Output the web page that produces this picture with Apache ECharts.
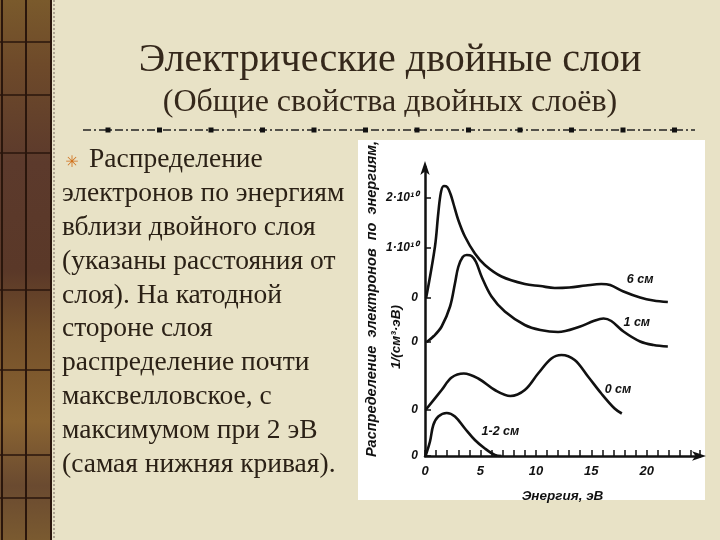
<!DOCTYPE html>
<html><head><meta charset="utf-8">
<script src="https://cdn.jsdelivr.net/npm/echarts@6/dist/echarts.min.js"></script>
<style>html,body{margin:0;padding:0;background:#E8E2C6}#c{width:720px;height:540px}</style>
</head><body><div id="c"></div>
<script>
// ---- data (energy in eV, distribution in units of 10^10 1/(cm^3·eV)) ----
const curveNames = ['6 см', '1 см', '0 см', '1-2 см'];
const baselineOffsets = [3.16, 2.28, 0.92, 0]; // vertical shift of each curve (stacked plot)
const energy6 = [0.1, 0.9, 1.2, 1.45, 1.7, 2.0, 2.3, 2.56, 3.0, 3.6, 4.5, 5.4, 6.9, 9.0, 10.4, 11.7, 13.0, 14.5, 15.9, 16.7, 17.9, 19.4, 20.6, 21.9];
const dist6   = [0, 1.03, 1.7, 2.13, 2.24, 2.22, 2.08, 1.89, 1.56, 1.23, 0.89, 0.66, 0.43, 0.28, 0.24, 0.2, 0.21, 0.25, 0.28, 0.26, 0.13, 0.01, -0.05, -0.08];
const energy1 = [0.15, 0.8, 1.5, 2.26, 2.7, 3.0, 3.4, 3.76, 4.2, 4.6, 5.1, 6.0, 7.2, 9.0, 10.4, 12.0, 14.0, 15.2, 16.1, 16.8, 17.9, 19.4, 20.6, 21.9];
const dist1   = [0, 0.12, 0.31, 0.71, 1.17, 1.5, 1.7, 1.74, 1.72, 1.6, 1.31, 0.91, 0.61, 0.34, 0.24, 0.2, 0.31, 0.42, 0.47, 0.42, 0.21, 0.01, -0.06, -0.09];
const energy0 = [0.05, 1.5, 2.4, 3.5, 4.8, 6.3, 7.7, 9.0, 10.2, 11.4, 12.3, 13.5, 14.7, 15.9, 17.1, 17.75];
const dist0   = [0, 0.4, 0.65, 0.73, 0.63, 0.4, 0.28, 0.4, 0.73, 1.03, 1.1, 1.0, 0.67, 0.33, 0.03, -0.07];
const energy12 = [0.05, 0.45, 0.75, 1.2, 1.96, 2.7, 3.6, 4.5, 5.4, 6.3, 6.9];
const dist12   = [0, 0.29, 0.62, 0.79, 0.86, 0.79, 0.55, 0.32, 0.15, 0.02, 0];
const xTickLabels = [0, 5, 10, 15, 20];
const yTickValues = [0, 0.92, 2.28, 3.16, 4.16, 5.16];
const yTickLabels = ['0', '0', '0', '0', '1·10¹⁰', '2·10¹⁰'];
const labelPos = [[19.4, 3.52], [19.1, 2.66], [17.4, 1.32], [6.8, 0.48]]; // where curve names sit
const bodyLines = ['электронов по энергиям', 'вблизи двойного слоя', '(указаны расстояния от', 'слоя). На катодной', 'стороне слоя', 'распределение почти', 'максвелловское, с', 'максимумом при 2 эВ', '(самая нижняя кривая).'];

const energies = [energy6, energy1, energy0, energy12];
const dists = [dist6, dist1, dist0, dist12];

const chart = echarts.init(document.getElementById('c'), null, {renderer: 'canvas'});
const axisFont = {fontFamily: 'Liberation Sans', fontStyle: 'italic', fontWeight: 'bold', color: '#111'};

const series = energies.map((ex, k) => ({
  type: 'line', name: curveNames[k], smooth: 0.35, showSymbol: false, symbol: 'none',
  lineStyle: {color: '#111', width: 2.6}, z: 5,
  data: ex.map((e, i) => [e, dists[k][i] + baselineOffsets[k]])
}));

const serif = '"Liberation Serif", "DejaVu Serif", serif';
const graphic = [];
// left decorative strip
graphic.push({type: 'rect', z: -20, silent: true, shape: {x: 0, y: 0, width: 52, height: 540},
  style: {fill: new echarts.graphic.LinearGradient(0, 0, 0, 1, [
    {offset: 0, color: '#7A5A2C'}, {offset: 0.12, color: '#6E4A2A'}, {offset: 0.3, color: '#5C3A2C'},
    {offset: 0.5, color: '#5A3828'}, {offset: 0.62, color: '#74502A'}, {offset: 0.78, color: '#8A6432'},
    {offset: 0.9, color: '#6A4A30'}, {offset: 1, color: '#7A5A30'}])}});
[2, 26, 51].forEach(x => graphic.push({type: 'line', z: -19, silent: true, shape: {x1: x, y1: 0, x2: x, y2: 540}, style: {stroke: '#2A160C', lineWidth: 2}}));
[42, 95, 153, 290, 370, 455, 498].forEach(y => graphic.push({type: 'line', z: -19, silent: true, shape: {x1: 0, y1: y, x2: 52, y2: y}, style: {stroke: '#2A160C', lineWidth: 1.5}}));
graphic.push({type: 'line', z: -19, silent: true, shape: {x1: 54, y1: 0, x2: 54, y2: 540}, style: {stroke: '#9A9080', lineWidth: 1.5, lineDash: [2, 2]}});
// white chart panel
graphic.push({type: 'rect', z: -10, silent: true, shape: {x: 358, y: 140, width: 347, height: 360}, style: {fill: '#FFFFFF'}});
// title
graphic.push({type: 'text', silent: true, style: {text: 'Электрические двойные слои', x: 390, y: 60, textAlign: 'center', textVerticalAlign: 'middle', font: '40px ' + serif, fill: '#35281B'}});
graphic.push({type: 'text', silent: true, style: {text: '(Общие свойства двойных слоёв)', x: 390, y: 103, textAlign: 'center', textVerticalAlign: 'middle', font: '32px ' + serif, fill: '#35281B'}});
// separator line with squares
graphic.push({type: 'line', silent: true, shape: {x1: 83, y1: 130, x2: 695, y2: 130}, style: {stroke: '#222', lineWidth: 1.5, lineDash: [8, 3, 2, 3]}});
for (let i = 0; i < 12; i++) {
  graphic.push({type: 'rect', silent: true, shape: {x: 105.5 + i * 51.5, y: 127.5, width: 5, height: 5}, style: {fill: '#111'}});
}
// bullet + body text
graphic.push({type: 'text', silent: true, style: {text: '✳', x: 72, y: 163, textAlign: 'center', textVerticalAlign: 'middle', font: 'bold 16px "DejaVu Sans"', fill: '#D0701A'}});
graphic.push({type: 'text', silent: true, style: {text: 'Распределение', x: 89, y: 160, textVerticalAlign: 'middle', font: '27.5px ' + serif, fill: '#2B2116'}});
bodyLines.forEach((t, i) => graphic.push({type: 'text', silent: true,
  style: {text: t, x: 62, y: 194 + i * 33.8, textVerticalAlign: 'middle', font: '27.5px ' + serif, fill: '#2B2116'}}));
// rotated y-axis title (two lines)
graphic.push({type: 'text', silent: true, x: 372, y: 299, rotation: Math.PI / 2,
  style: {text: 'Распределение  электронов  по  энергиям,', x: 0, y: 0, textAlign: 'center', textVerticalAlign: 'middle', font: 'italic bold 14.5px "Liberation Sans"', fill: '#111'}});
graphic.push({type: 'text', silent: true, x: 396, y: 337, rotation: Math.PI / 2,
  style: {text: '1/(см³·эВ)', x: 0, y: 0, textAlign: 'center', textVerticalAlign: 'middle', font: 'italic bold 13.5px "Liberation Sans"', fill: '#111'}});

chart.setOption({
  backgroundColor: '#E8E2C6',
  animation: false,
  grid: {left: 425, top: 167, width: 275, height: 289, containLabel: false},
  xAxis: {
    type: 'value', min: 0, max: 24.8, interval: 1,
    name: 'Энергия, эВ', nameLocation: 'middle', nameGap: 33,
    nameTextStyle: {fontSize: 13.5, ...axisFont},
    axisLine: {lineStyle: {color: '#111', width: 2.5}, symbol: ['none', 'arrow'], symbolSize: [7, 14], symbolOffset: [0, 6]},
    axisTick: {inside: true, length: 6, lineStyle: {color: '#111', width: 1.5}},
    axisLabel: {customValues: xTickLabels, margin: 9, fontSize: 13, ...axisFont},
    splitLine: {show: false}
  },
  yAxis: {
    type: 'value', min: 0, max: 5.78,
    axisLine: {show: true, lineStyle: {color: '#111', width: 2.5}, symbol: ['none', 'arrow'], symbolSize: [7, 14], symbolOffset: [0, 6]},
    axisTick: {show: true, inside: true, length: 6, customValues: yTickValues, lineStyle: {color: '#111', width: 1.5}},
    axisLabel: {customValues: yTickValues, margin: 7, fontSize: 12, ...axisFont,
      formatter: v => { let best = 0; yTickValues.forEach((t, i) => { if (Math.abs(t - v) < Math.abs(yTickValues[best] - v)) best = i; }); return yTickLabels[best]; }},
    splitLine: {show: false}
  },
  graphic: graphic,
  series: series
});

// curve name labels placed through the chart's own coordinate system
const curveLabels = labelPos.map((p, k) => {
  const px = chart.convertToPixel({gridIndex: 0}, p);
  return {type: 'text', silent: true, z: 10, style: {text: curveNames[k], x: px[0], y: px[1], textAlign: 'center', textVerticalAlign: 'middle',
    font: 'italic bold 12.5px "Liberation Sans"', fill: '#111'}};
});
chart.setOption({graphic: graphic.concat(curveLabels)});
</script></body></html>
